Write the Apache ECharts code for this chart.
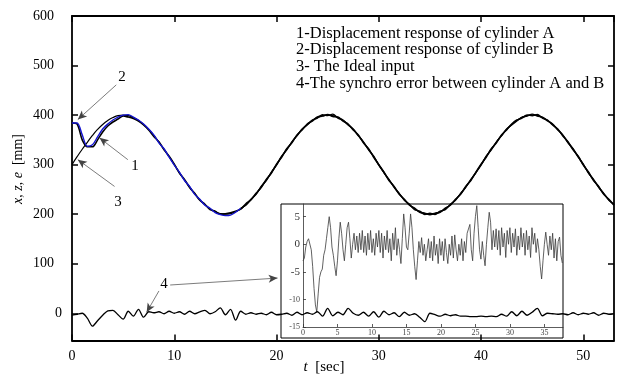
<!DOCTYPE html>
<html>
<head>
<meta charset="utf-8">
<script src="https://cdn.jsdelivr.net/npm/echarts@6/dist/echarts.min.js"></script>
<style>
  html, body { margin: 0; padding: 0; background: #fff; }
  #chart { width: 618px; height: 376px; }
</style>
</head>
<body>
<div id="chart"></div>
<script>
// main chart: samples every 0.5 s from 0 to 53 s
var step = 0.5
var idealInput = [
  300, 316, 331, 345, 359, 371, 381, 389, 395, 399,
  400, 399, 395, 389, 381, 371, 359, 345, 331, 316,
  300, 284, 269, 255, 241, 229, 219, 211, 205, 201,
  200, 201, 205, 211, 219, 229, 241, 255, 269, 284,
  300, 316, 331, 345, 359, 371, 381, 389, 395, 399,
  400, 399, 395, 389, 381, 371, 359, 345, 331, 316,
  300, 284, 269, 255, 241, 229, 219, 211, 205, 201,
  200, 201, 205, 211, 219, 229, 241, 255, 269, 284,
  300, 316, 331, 345, 359, 371, 381, 389, 395, 399,
  400, 399, 395, 389, 381, 371, 359, 345, 331, 316,
  300, 284, 269, 255, 241, 229, 219
]
var cylA = [
  384, 382, 350, 336, 336, 350, 366, 378, 386, 392,
  398, 396, 393, 388, 380, 370, 357, 346, 330, 317,
  301, 283, 270, 254, 242, 228, 220, 209, 206, 200,
  201, 203, 206, 210, 221, 229, 242, 254, 270, 283,
  301, 315, 332, 344, 360, 370, 382, 388, 396, 398,
  401, 397, 396, 388, 382, 370, 360, 344, 332, 315,
  300, 285, 268, 256, 240, 230, 218, 212, 204, 202,
  199, 202, 204, 212, 218, 230, 240, 256, 268, 285,
  301, 315, 332, 344, 360, 370, 382, 390, 394, 400,
  399, 401, 394, 390, 380, 372, 358, 346, 330, 317,
  299, 285, 268, 256, 240, 230, 218
]
var cylB = [
  384, 384, 360, 337, 340, 356, 372, 382, 390, 396,
  400, 401, 396, 390, 382, 372, 360, 344, 332, 315,
  299, 285, 268, 256, 240, 230, 218, 212, 203, 199,
  197, 198, 204, 212, 218, 230, 240, 256, 268, 285,
  299, 317, 330, 346, 358, 372, 380, 390, 394, 401,
  399, 402, 394, 390, 380, 372, 358, 346, 330, 317,
  299, 284, 270, 254, 242, 228, 220, 209, 206, 199,
  202, 199, 206, 209, 220, 228, 242, 254, 270, 284,
  299, 317, 330, 346, 358, 372, 380, 388, 396, 398,
  402, 398, 396, 388, 382, 370, 360, 344, 332, 315,
  301, 283, 270, 254, 242, 228, 220
]
var syncErr = [
  -4, -2, 0, -10, -26, -15, -4, 5, 6, -3,
  -12, 4, -6, 8, -8, 3, 1, 3, -1, 4,
  0, 3, -2, 4, -1, 3, 6, -1, 3, 11,
  -3, 8, -14, 4, -2, 1, -2, 0, -3, 2,
  -3, -2, 0, -4, 2, -3, 1, -2, 3, -6,
  10, -5, 2, -3, 10, 0, -4, 2, -6, 3,
  -8, 4, -3, 1, -7, 2, -4, -1, -8, -17,
  0, -3, -6, -2, -5, -3, -6, -6, -7, -7,
  -6, -7, -6, -7, -2, -6, 3, -5, 4, -4,
  2, 10, -5, 0, -1, -2, -1, -3, 1, -3,
  0, -2, 1, -4, 0, -2, -1
]
// cylinder B is drawn blue up to this time, black afterwards
var blueUntil = 16.5

// inset: error zoomed, samples every 0.2 s from 0 to 37.6 s
var insetStep = 0.2
var insetErr = [
  -3, -2.5, -0.5, 0.5, 1, 0.8, -1, -4, -8, -11,
  -12.3, -9, -6, -5, -4.5, -2, -1, 1, 3, 5,
  3, -0.5, -2, -4, -5.7, -3, 1, 4, 2, -1,
  -3, 0, 3, 4, 1, -2.5, 0, 2, -1, 1.5,
  -1.5, 2, -1, 2.5, -1.5, 1.5, -2, 2, -1, 2.5,
  -1.5, 1, -2, 2, -0.5, 2.5, -1.5, 2, -2.5, 1.5,
  -1, 2.5, -1.5, 1, -3, 2, -1, 3, -2, 1,
  -1, -3.5, 1, 5.5, 3, -0.5, -1, 2, 5.5, 3,
  -1, -4, -6.4, -3, 0.5, -1.5, 1.2, -2, 0, -3,
  -1, 1, -2.5, 0.5, -3, 1.5, -2, 0, -3.5, 1,
  -2, 0.5, -3, 1, -1.5, -3.5, 0, -2, 1.5, -2.5,
  1.7, -1, -3, 0, -2, 1, -3, 0.5, -1.5, 2,
  1.8, 3.6, -1, -3, 2, 5, 7, 3, -1, -2.7,
  0.5, -2, -3.9, 0, 3, 5.8, 4, -1, 2.5, -0.5,
  2.8, -1, 2.5, -2, 3, -0.5, 2, -2.4, 2.5, 0,
  3, -1.5, 2, -0.5, 2.8, -2, 1.5, -1, 3, -0.5,
  2, -2, 2.5, -1, 1.5, -2.4, 3, 0, 2, -1.5,
  1, -1, -4, -6.3, -3, 0, 2.2, 0, -2, 1.5,
  -1, 2, -2.5, 1, -3, 0.5, 1.3, -2, -3.4
]

var yLabels = [0, 100, 200, 300, 400, 500, 600]
var yRightTicks = [100, 200, 300, 400, 500]
var legendLines = [
  '1-Displacement response of cylinder A',
  '2-Displacement response of cylinder B',
  '3- The Ideal input',
  '4-The synchro error between cylinder A and B'
]

function pairs(arr, dt) {
  var out = []
  for (var i = 0; i < arr.length; i++) {
    out.push([+(i * dt).toFixed(2), arr[i]])
  }
  return out
}

var serif = 'Liberation Serif'
var chart = echarts.init(document.getElementById('chart'))

var frame = { onZero: false, lineStyle: { color: '#000', width: 1.8 } }
var inTick = { inside: true, length: 6, lineStyle: { color: '#000', width: 1.5 } }

var bPairs = pairs(cylB, step)
var bBlue = bPairs.filter(function (p) { return p[0] <= blueUntil })
var bBlack = bPairs.filter(function (p) { return p[0] >= blueUntil })

// annotation arrows (data coordinates)
var arrowLines = [
  [{ coord: [4.33, 461] }, { coord: [0.57, 391] }],
  [{ coord: [5.46, 310] }, { coord: [2.69, 354] }],
  [{ coord: [4.16, 256] }, { coord: [0.57, 310] }],
  [{ coord: [8.5, 45] }, { coord: [7.3, 2] }],
  [{ coord: [9.6, 57] }, { coord: [20.1, 71] }]
]

var gfx = [
  {
    type: 'rect', z: -1,
    shape: { x: 281, y: 204, width: 282, height: 134 },
    style: { fill: '#fff', stroke: '#000', lineWidth: 1 }
  },
  {
    type: 'text', x: 18, y: 169, rotation: Math.PI / 2,
    style: {
      text: '{i|x, z, e}  [mm]', align: 'center', verticalAlign: 'middle',
      font: '14px ' + serif, fill: '#000',
      rich: { i: { fontStyle: 'italic', fontSize: 14, fontFamily: serif } }
    }
  },
  {
    type: 'text', x: 324, y: 367,
    style: {
      text: '{i|t}  [sec]', align: 'center', verticalAlign: 'middle',
      font: '15px ' + serif, fill: '#000',
      rich: { i: { fontStyle: 'italic', fontSize: 15, fontFamily: serif } }
    }
  }
]
for (var k = 0; k < legendLines.length; k++) {
  gfx.push({
    type: 'text', x: 296, y: 33.5 + k * 16.6,
    style: { text: legendLines[k], font: '16.5px ' + serif, fill: '#000', verticalAlign: 'middle' }
  })
}
var numLabels = [['2', 122, 77], ['1', 135, 166], ['3', 118, 202], ['4', 164, 284]]
numLabels.forEach(function (n) {
  gfx.push({
    type: 'text', x: n[1], y: n[2],
    style: { text: n[0], font: '15px ' + serif, fill: '#000', align: 'center', verticalAlign: 'middle' }
  })
})

var option = {
  animation: false,
  backgroundColor: '#fff',
  grid: [
    { left: 72, right: 4, top: 16, bottom: 35.5 },
    { left: 303, top: 204, width: 260, height: 123 }
  ],
  xAxis: [
    {
      gridIndex: 0, type: 'value', min: 0, max: 53, interval: 10,
      axisLine: frame, axisTick: inTick, splitLine: { show: false },
      axisLabel: { color: '#000', fontFamily: serif, fontSize: 14, margin: 9, showMaxLabel: false }
    },
    {
      gridIndex: 0, type: 'value', position: 'top', min: 0, max: 53, interval: 10,
      axisLine: frame, axisTick: inTick, splitLine: { show: false },
      axisLabel: { show: false }
    },
    {
      gridIndex: 1, type: 'value', min: 0, max: 37.7, interval: 5,
      axisLine: { onZero: false, lineStyle: { color: '#333', width: 0.8 } },
      axisTick: { inside: true, length: 3, lineStyle: { color: '#333', width: 0.8 } },
      splitLine: { show: false },
      axisLabel: { color: '#444', fontFamily: serif, fontSize: 8, margin: 2, showMaxLabel: false }
    }
  ],
  yAxis: [
    {
      gridIndex: 0, type: 'value', min: -55, max: 600,
      axisLine: frame, splitLine: { show: false },
      axisTick: Object.assign({ customValues: yLabels }, inTick),
      axisLabel: {
        customValues: yLabels, color: '#000', fontFamily: serif, fontSize: 14, margin: 10,
        formatter: function (v) { return v === 0 ? '0' : '{n|' + v + '}' },
        rich: { n: { fontFamily: serif, fontSize: 14, color: '#000', padding: [0, 8, 0, 0] } }
      }
    },
    {
      gridIndex: 0, type: 'value', position: 'right', min: -55, max: 600,
      axisLine: frame, splitLine: { show: false },
      axisTick: Object.assign({ customValues: yRightTicks }, inTick),
      axisLabel: { show: false }
    },
    {
      gridIndex: 1, type: 'value', min: -15, max: 7.3, interval: 5,
      axisLine: { show: true, onZero: false, lineStyle: { color: '#333', width: 0.8 } },
      axisTick: { inside: true, length: 3, lineStyle: { color: '#333', width: 0.8 } },
      splitLine: { show: false },
      axisLabel: {
        color: '#333', fontFamily: serif, fontSize: 11, margin: 3, showMaxLabel: false,
        formatter: function (v) { return v <= -10 ? '{s|' + v + '}' : String(v) },
        rich: { s: { fontSize: 8, fontFamily: serif, color: '#444' } }
      }
    }
  ],
  series: [
    {
      name: 'ideal', type: 'line', xAxisIndex: 0, yAxisIndex: 0,
      data: pairs(idealInput, step), showSymbol: false, smooth: true,
      lineStyle: { color: '#000', width: 1.2 }, z: 3,
      markLine: {
        silent: true, symbol: ['none', 'arrow'], symbolSize: [6, 9],
        label: { show: false },
        lineStyle: { color: '#444', width: 0.7, type: 'solid' },
        data: arrowLines
      }
    },
    {
      name: 'cylA', type: 'line', xAxisIndex: 0, yAxisIndex: 0,
      data: pairs(cylA, step), showSymbol: false, smooth: 0.3,
      lineStyle: { color: '#000', width: 1.6 }, z: 4
    },
    {
      name: 'cylB', type: 'line', xAxisIndex: 0, yAxisIndex: 0,
      data: bBlue, showSymbol: false, smooth: 0.3,
      lineStyle: { color: '#1414d0', width: 1.4 }, z: 4
    },
    {
      name: 'cylB2', type: 'line', xAxisIndex: 0, yAxisIndex: 0,
      data: bBlack, showSymbol: false, smooth: 0.3,
      lineStyle: { color: '#000', width: 1.4 }, z: 4
    },
    {
      name: 'err', type: 'line', xAxisIndex: 0, yAxisIndex: 0,
      data: pairs(syncErr, step), showSymbol: false, smooth: 0.3,
      lineStyle: { color: '#000', width: 1.3 }, z: 4
    },
    {
      name: 'insetErr', type: 'line', xAxisIndex: 2, yAxisIndex: 2,
      data: pairs(insetErr, insetStep), showSymbol: false,
      lineStyle: { color: '#3a3a3a', width: 0.8 }, z: 3
    }
  ],
  graphic: gfx
}
chart.setOption(option)
</script>
</body>
</html>
